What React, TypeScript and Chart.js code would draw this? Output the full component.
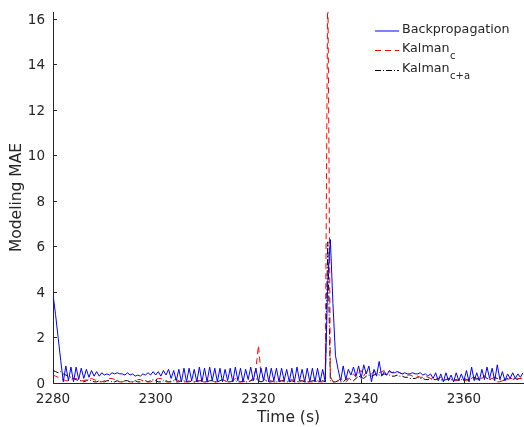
import React, { useEffect, useRef } from 'react';
import { Chart, registerables } from 'chart.js';

Chart.register(...registerables);

// time grid: samples every 0.5 s starting at 2280 s
const T0 = 2280;
const DT = 0.5;

const backprop = [
  3.9, 3.0, 2.0, 1.0, 0.05, 0.75, 0.1, 0.7, 0.05, 0.7, 0.15, 0.65, 0.2, 0.6, 0.25, 0.55, 0.3, 0.5, 0.3, 0.45,
  0.35, 0.4, 0.35, 0.45, 0.4, 0.45, 0.4, 0.4, 0.35, 0.45, 0.35, 0.4, 0.3, 0.35, 0.3, 0.4, 0.35, 0.45, 0.35, 0.5,
  0.35, 0.5, 0.3, 0.55, 0.35, 0.6, 0.2, 0.55, 0.1, 0.6, 0.05, 0.65, 0.05, 0.65, 0.1, 0.6, 0.05, 0.7, 0.05, 0.65,
  0.05, 0.7, 0.1, 0.65, 0.05, 0.65, 0.05, 0.6, 0.1, 0.65, 0.05, 0.7, 0.1, 0.65, 0.05, 0.6, 0.15, 0.7, 0.1, 0.65,
  0.05, 0.65, 0.1, 0.7, 0.05, 0.65, 0.1, 0.65, 0.05, 0.65, 0.1, 0.6, 0.05, 0.65, 0.05, 0.7, 0.1, 0.6, 0.05, 0.65,
  0.05, 0.65, 0.05, 0.65, 0.05, 0.6, 0.05, 4.5, 6.3, 3.5, 1.2, 0.6, 0.1, 0.75, 0.15, 0.6, 0.35, 0.7, 0.3, 0.75,
  0.2, 0.8, 0.4, 0.75, 0.05, 0.6, 0.3, 0.95, 0.3, 0.5, 0.35, 0.55, 0.45, 0.45, 0.5, 0.45, 0.4, 0.45, 0.4, 0.4,
  0.45, 0.4, 0.4, 0.45, 0.35, 0.4, 0.3, 0.4, 0.2, 0.45, 0.1, 0.4, 0.05, 0.45, 0.1, 0.35, 0.05, 0.45, 0.1, 0.4,
  0.1, 0.55, 0.05, 0.7, 0.1, 0.45, 0.1, 0.6, 0.15, 0.7, 0.2, 0.65, 0.1, 0.8, 0.15, 0.5, 0.1, 0.4, 0.2, 0.45,
  0.2, 0.4, 0.25, 0.45,
];

const kalmanC = [
  0.35, 0.3, 0.25, 0.2, 0.15, 0.1, 0.1, 0.15, 0.2, 0.2, 0.15, 0.1, 0.1, 0.15, 0.2, 0.2, 0.15, 0.1, 0.05, 0.05,
  0.1, 0.15, 0.2, 0.2, 0.15, 0.1, 0.05, 0.05, 0.1, 0.1, 0.05, 0.05, 0.1, 0.15, 0.15, 0.1, 0.05, 0.05, 0.05, 0.1,
  0.15, 0.2, 0.2, 0.15, 0.05, 0.05, 0.1, 0.15, 0.15, 0.1, 0.05, 0.05, 0.05, 0.1, 0.05, 0.05, 0.1, 0.1, 0.05, 0.05,
  0.05, 0.1, 0.1, 0.05, 0.05, 0.1, 0.15, 0.1, 0.05, 0.05, 0.1, 0.2, 0.15, 0.05, 0.05, 0.1, 0.05, 0.1, 0.25, 0.6,
  1.65, 0.4, 0.2, 0.1, 0.15, 0.1, 0.05, 0.05, 0.1, 0.1, 0.05, 0.05, 0.1, 0.15, 0.1, 0.05, 0.05, 0.1, 0.1, 0.05,
  0.05, 0.05, 0.1, 0.1, 0.05, 0.05, 0.1, 18, 0.3, 0.05, 0.05, 0.1, 0.2, 0.1, 0.05, 0.15, 0.3, 0.4, 0.25, 0.45,
  0.55, 0.3, 0.5, 0.45, 0.4, 0.5, 0.5, 0.45, 0.5, 0.55, 0.5, 0.5, 0.45, 0.5, 0.5, 0.45, 0.4, 0.4, 0.35, 0.35,
  0.3, 0.3, 0.3, 0.25, 0.25, 0.3, 0.25, 0.2, 0.15, 0.15, 0.2, 0.25, 0.2, 0.15, 0.15, 0.2, 0.15, 0.1, 0.15, 0.2,
  0.15, 0.1, 0.2, 0.25, 0.2, 0.15, 0.1, 0.2, 0.3, 0.25, 0.15, 0.2, 0.1, 0.05, 0.05, 0.1, 0.1, 0.15, 0.2, 0.2,
  0.15, 0.2, 0.2, 0.2,
];

const kalmanCA = [
  0.55, 0.5, 0.45, 0.5, 0.4, 0.35, 0.3, 0.25, 0.2, 0.15, 0.1, 0.1, 0.05, 0.1, 0.15, 0.1, 0.05, 0.05, 0.1, 0.05,
  0.05, 0.1, 0.1, 0.05, 0.05, 0.1, 0.05, 0.05, 0.1, 0.1, 0.05, 0.05, 0.1, 0.05, 0.05, 0.1, 0.1, 0.05, 0.1, 0.15,
  0.1, 0.05, 0.05, 0.1, 0.1, 0.05, 0.05, 0.1, 0.05, 0.05, 0.1, 0.1, 0.05, 0.05, 0.1, 0.05, 0.05, 0.1, 0.1, 0.05,
  0.05, 0.1, 0.1, 0.05, 0.05, 0.1, 0.15, 0.1, 0.05, 0.05, 0.1, 0.1, 0.05, 0.05, 0.1, 0.05, 0.05, 0.1, 0.15, 0.2,
  0.1, 0.05, 0.1, 0.1, 0.05, 0.05, 0.1, 0.05, 0.05, 0.1, 0.1, 0.05, 0.05, 0.1, 0.05, 0.05, 0.1, 0.1, 0.05, 0.05,
  0.05, 0.1, 0.1, 0.05, 0.05, 0.1, 0.05, 6.2, 0.1, 0.05, 0.05, 0.1, 0.05, 0.05, 0.15, 0.2, 0.15, 0.1, 0.2, 0.3,
  0.25, 0.2, 0.3, 0.35, 0.3, 0.35, 0.4, 0.35, 0.35, 0.4, 0.35, 0.35, 0.3, 0.3, 0.35, 0.3, 0.3, 0.25, 0.25, 0.2,
  0.2, 0.2, 0.25, 0.2, 0.2, 0.15, 0.15, 0.2, 0.15, 0.15, 0.2, 0.15, 0.1, 0.15, 0.2, 0.15, 0.1, 0.15, 0.1, 0.15,
  0.2, 0.15, 0.1, 0.2, 0.25, 0.2, 0.15, 0.25, 0.3, 0.2, 0.15, 0.2, 0.25, 0.2, 0.15, 0.1, 0.15, 0.2, 0.2, 0.15,
  0.2, 0.15, 0.2, 0.2,
];

const xTicks = [2280, 2300, 2320, 2340, 2360];
const yTicks = [0, 2, 4, 6, 8, 10, 12, 14, 16];
const X_MIN = 2280;
const X_MAX = 2371.7;
const Y_MIN = 0;
const Y_MAX = 16.3;

const legendNames = ['Backpropagation', 'Kalman', 'Kalman'];
const legendSubs = ['', 'c', 'c+a'];
const xTitle = 'Time (s)';
const yTitle = 'Modeling MAE';

const FONT = "'DejaVu Sans', 'Liberation Sans', sans-serif";
const TEXT = '#262626';

const colors = ['#0000ff', '#ff0000', '#000000'];
const dashes = [[], [6, 4], [6, 2, 1, 2]];

const toPoints = (vals: number[]) => vals.map((v, i) => ({ x: T0 + i * DT, y: v }));

const decorPlugin = {
  id: 'decor',
  afterDraw(chart: any) {
    const { ctx, chartArea, scales } = chart;
    const xs = scales.x;
    const ys = scales.y;
    ctx.save();
    // inward tick marks
    ctx.strokeStyle = TEXT;
    ctx.lineWidth = 1;
    ctx.setLineDash([]);
    xTicks.forEach((t) => {
      const px = Math.round(xs.getPixelForValue(t)) + 0.5;
      ctx.beginPath();
      ctx.moveTo(px, chartArea.bottom);
      ctx.lineTo(px, chartArea.bottom - 4);
      ctx.stroke();
    });
    yTicks.forEach((t) => {
      const py = Math.round(ys.getPixelForValue(t)) + 0.5;
      ctx.beginPath();
      ctx.moveTo(chartArea.left, py);
      ctx.lineTo(chartArea.left + 4, py);
      ctx.stroke();
    });
    // axis titles
    ctx.fillStyle = TEXT;
    ctx.font = `15.5px ${FONT}`;
    ctx.textAlign = 'center';
    ctx.textBaseline = 'middle';
    ctx.fillText(xTitle, (chartArea.left + chartArea.right) / 2, 418);
    ctx.save();
    ctx.translate(17, (chartArea.top + chartArea.bottom) / 2);
    ctx.rotate(-Math.PI / 2);
    ctx.fillText(yTitle, 0, 0);
    ctx.restore();
    // legend
    const rows = [31, 50, 70];
    for (let i = 0; i < 3; i++) {
      const y = rows[i] + 0.5;
      ctx.strokeStyle = colors[i];
      ctx.lineWidth = 1;
      ctx.setLineDash(dashes[i]);
      ctx.beginPath();
      ctx.moveTo(375, i === 0 ? rows[i] : y);
      ctx.lineTo(399, i === 0 ? rows[i] : y);
      ctx.stroke();
      ctx.setLineDash([]);
      ctx.fillStyle = TEXT;
      ctx.textAlign = 'left';
      ctx.textBaseline = 'middle';
      ctx.font = `12.7px ${FONT}`;
      ctx.fillText(legendNames[i], 402, rows[i] - 1);
      if (legendSubs[i]) {
        const w = ctx.measureText(legendNames[i]).width;
        ctx.font = `10px ${FONT}`;
        ctx.fillText(legendSubs[i], 402 + w + 0.5, rows[i] + 6);
      }
    }
    ctx.restore();
  },
};

export default function App() {
  const ref = useRef<HTMLCanvasElement | null>(null);
  useEffect(() => {
    document.body.style.margin = '0';
    if (!ref.current) return;
    Chart.defaults.font.family = FONT;
    const chart = new Chart(ref.current, {
      type: 'line',
      data: {
        datasets: [
          { label: 'Backpropagation', data: toPoints(backprop), borderColor: colors[0], borderWidth: 1, borderDash: dashes[0], pointRadius: 0, tension: 0, fill: false },
          { label: 'Kalman_c', data: toPoints(kalmanC), borderColor: colors[1], borderWidth: 1, borderDash: dashes[1], pointRadius: 0, tension: 0, fill: false },
          { label: 'Kalman_c+a', data: toPoints(kalmanCA), borderColor: colors[2], borderWidth: 1, borderDash: dashes[2], pointRadius: 0, tension: 0, fill: false },
        ],
      },
      options: {
        animation: false,
        responsive: false,
        maintainAspectRatio: false,
        layout: { padding: { top: 12, right: 0, left: 0, bottom: 0 } },
        plugins: { legend: { display: false }, tooltip: { enabled: false } },
        scales: {
          x: {
            type: 'linear',
            min: X_MIN,
            max: X_MAX,
            afterBuildTicks: (s: any) => { s.ticks = xTicks.map((v) => ({ value: v })); },
            afterFit: (s: any) => { s.height = 44; },
            grid: { display: false },
            border: { display: true, color: TEXT, width: 1 },
            ticks: { color: TEXT, font: { size: 13.5 }, padding: 0, maxRotation: 0, autoSkip: false, callback: (v: any) => String(v) },
          },
          y: {
            type: 'linear',
            min: Y_MIN,
            max: Y_MAX,
            afterBuildTicks: (s: any) => { s.ticks = yTicks.map((v) => ({ value: v })); },
            afterFit: (s: any) => { s.width = 53; },
            grid: { display: false },
            border: { display: true, color: TEXT, width: 1 },
            ticks: { color: TEXT, font: { size: 13.5 }, padding: 0, labelOffset: 1.5, autoSkip: false, callback: (v: any) => String(v) },
          },
        },
      },
      plugins: [decorPlugin],
    });
    return () => chart.destroy();
  }, []);
  return (
    <div style={{ width: 524, height: 427 }}>
      <canvas ref={ref} width={524} height={427} style={{ display: 'block' }} />
    </div>
  );
}
